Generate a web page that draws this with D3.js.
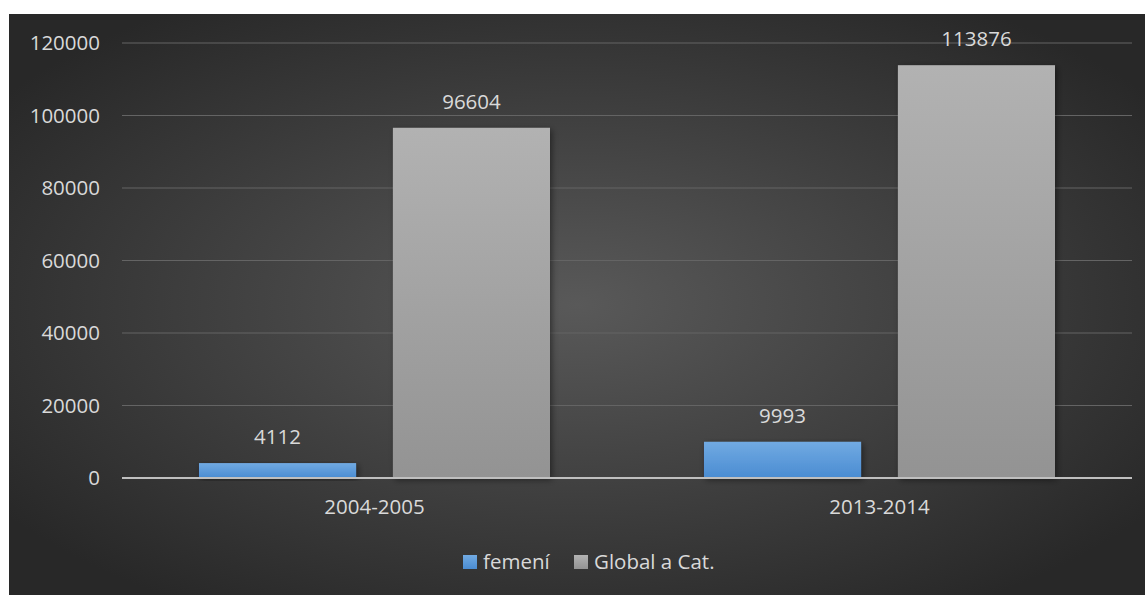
<!DOCTYPE html>
<html>
<head>
<meta charset="utf-8">
<script src="https://cdn.jsdelivr.net/npm/d3@7"></script>
<style>
  html, body { margin: 0; padding: 0; background: #fff; overflow: hidden; }
  svg { display: block; }
  text { font-family: "Open Sans", sans-serif; }
</style>
</head>
<body>
<div id="chart"></div>
<script>
var categories = ["2004-2005", "2013-2014"];
var seriesNames = ["femení", "Global a Cat."];
var femeni = [4112, 9993];
var globalCat = [96604, 113876];
var yTicks = [0, 20000, 40000, 60000, 80000, 100000, 120000];

var width = 1145;
var height = 595;
var fontSize = 20.5;

// chart area box (white strip at top and left in the original)
var box = { x: 9, y: 14, w: width - 9, h: height - 14 };
var margin = { top: 43, right: 13, bottom: 117, left: 122 };

var svg = d3.select("#chart")
    .append("svg")
    .attr("width", width)
    .attr("height", height)
    .attr("font-family", "'Open Sans', sans-serif")
    .attr("font-size", fontSize);

var defs = svg.append("defs");

var bg = defs.append("radialGradient")
    .attr("id", "bg")
    .attr("cx", "50%").attr("cy", "50%").attr("r", "62%");
bg.append("stop").attr("offset", "0%").attr("stop-color", "#595959");
bg.append("stop").attr("offset", "100%").attr("stop-color", "#282828");

var blue = defs.append("linearGradient")
    .attr("id", "blue").attr("x1", 0).attr("y1", 0).attr("x2", 0).attr("y2", 1);
blue.append("stop").attr("offset", "0%").attr("stop-color", "#71aae2");
blue.append("stop").attr("offset", "100%").attr("stop-color", "#4a8cd2");

var grey = defs.append("linearGradient")
    .attr("id", "grey").attr("x1", 0).attr("y1", 0).attr("x2", 0).attr("y2", 1);
grey.append("stop").attr("offset", "0%").attr("stop-color", "#b2b2b2");
grey.append("stop").attr("offset", "100%").attr("stop-color", "#939393");

var shadow = defs.append("filter")
    .attr("id", "shadow")
    .attr("x", "-10%").attr("y", "-10%").attr("width", "130%").attr("height", "130%");
shadow.append("feDropShadow")
    .attr("dx", 2).attr("dy", 2).attr("stdDeviation", 3)
    .attr("flood-color", "#000").attr("flood-opacity", 0.45);

svg.append("rect")
    .attr("x", box.x).attr("y", box.y)
    .attr("width", box.w).attr("height", box.h)
    .attr("fill", "url(#bg)");

var innerWidth = width - margin.left - margin.right;
var innerHeight = 478 - margin.top;

var g = svg.append("g")
    .attr("transform", "translate(" + margin.left + "," + margin.top + ")");

var x0 = d3.scaleBand()
    .domain(categories)
    .range([0, innerWidth])
    .paddingInner(0)
    .paddingOuter(0);

var x1 = d3.scaleBand()
    .domain(seriesNames)
    .range([0, x0.bandwidth()])
    .paddingInner(0.19)
    .paddingOuter(0.397);

var y = d3.scaleLinear()
    .domain([0, 120000])
    .range([innerHeight, 0]);

// gridlines
g.selectAll(".grid")
    .data(yTicks.filter(function(d) { return d > 0; }))
    .enter()
    .append("line")
    .attr("class", "grid")
    .attr("x1", 0).attr("x2", innerWidth)
    .attr("y1", function(d) { return y(d); })
    .attr("y2", function(d) { return y(d); })
    .attr("stroke", "#646464")
    .attr("stroke-width", 1.2);

// y labels
var yAxis = d3.axisLeft(y).tickValues(yTicks).tickSize(0).tickPadding(22).tickFormat(d3.format("d"));
var ya = g.append("g").call(yAxis)
    .attr("font-size", fontSize)
    .attr("font-family", "'Open Sans', sans-serif");
ya.select(".domain").remove();
ya.selectAll("text").attr("fill", "#d9d9d9");

var data = categories.map(function(c, i) {
    return { cat: c, values: [
        { name: seriesNames[0], v: femeni[i], fill: "url(#blue)" },
        { name: seriesNames[1], v: globalCat[i], fill: "url(#grey)" }
    ] };
});

var groups = g.selectAll(".group")
    .data(data)
    .enter()
    .append("g")
    .attr("class", "group")
    .attr("transform", function(d) { return "translate(" + x0(d.cat) + ",0)"; });

groups.selectAll("rect")
    .data(function(d) { return d.values; })
    .enter()
    .append("rect")
    .attr("x", function(d) { return x1(d.name); })
    .attr("y", function(d) { return y(d.v); })
    .attr("width", x1.bandwidth())
    .attr("height", function(d) { return innerHeight - y(d.v); })
    .attr("fill", function(d) { return d.fill; })
    .attr("filter", "url(#shadow)");

groups.selectAll(".val")
    .data(function(d) { return d.values; })
    .enter()
    .append("text")
    .attr("class", "val")
    .attr("x", function(d) { return x1(d.name) + x1.bandwidth() / 2; })
    .attr("y", function(d) { return y(d.v) - 19; })
    .attr("text-anchor", "middle")
    .attr("fill", "#d9d9d9")
    .attr("font-size", fontSize)
    .text(function(d) { return d.v; });

// zero axis line
g.append("line")
    .attr("x1", 0).attr("x2", innerWidth)
    .attr("y1", y(0)).attr("y2", y(0))
    .attr("stroke", "#bfbfbf")
    .attr("stroke-width", 2);

// x labels
var xAxis = d3.axisBottom(x0).tickSize(0).tickPadding(21);
var xa = g.append("g")
    .attr("transform", "translate(0," + innerHeight + ")")
    .call(xAxis)
    .attr("font-size", fontSize)
    .attr("font-family", "'Open Sans', sans-serif");
xa.select(".domain").remove();
xa.selectAll("text").attr("fill", "#d9d9d9");

// legend
var legendItems = [
    { name: seriesNames[0], fill: "url(#blue)", x: 463 },
    { name: seriesNames[1], fill: "url(#grey)", x: 574 }
];
var legend = svg.selectAll(".legend")
    .data(legendItems)
    .enter()
    .append("g")
    .attr("class", "legend")
    .attr("transform", function(d) { return "translate(" + d.x + ",555)"; });

legend.append("rect")
    .attr("width", 14).attr("height", 14)
    .attr("fill", function(d) { return d.fill; });

legend.append("text")
    .attr("x", 20).attr("y", 14)
    .attr("fill", "#d9d9d9")
    .attr("font-size", fontSize)
    .text(function(d) { return d.name; });
</script>
</body>
</html>
